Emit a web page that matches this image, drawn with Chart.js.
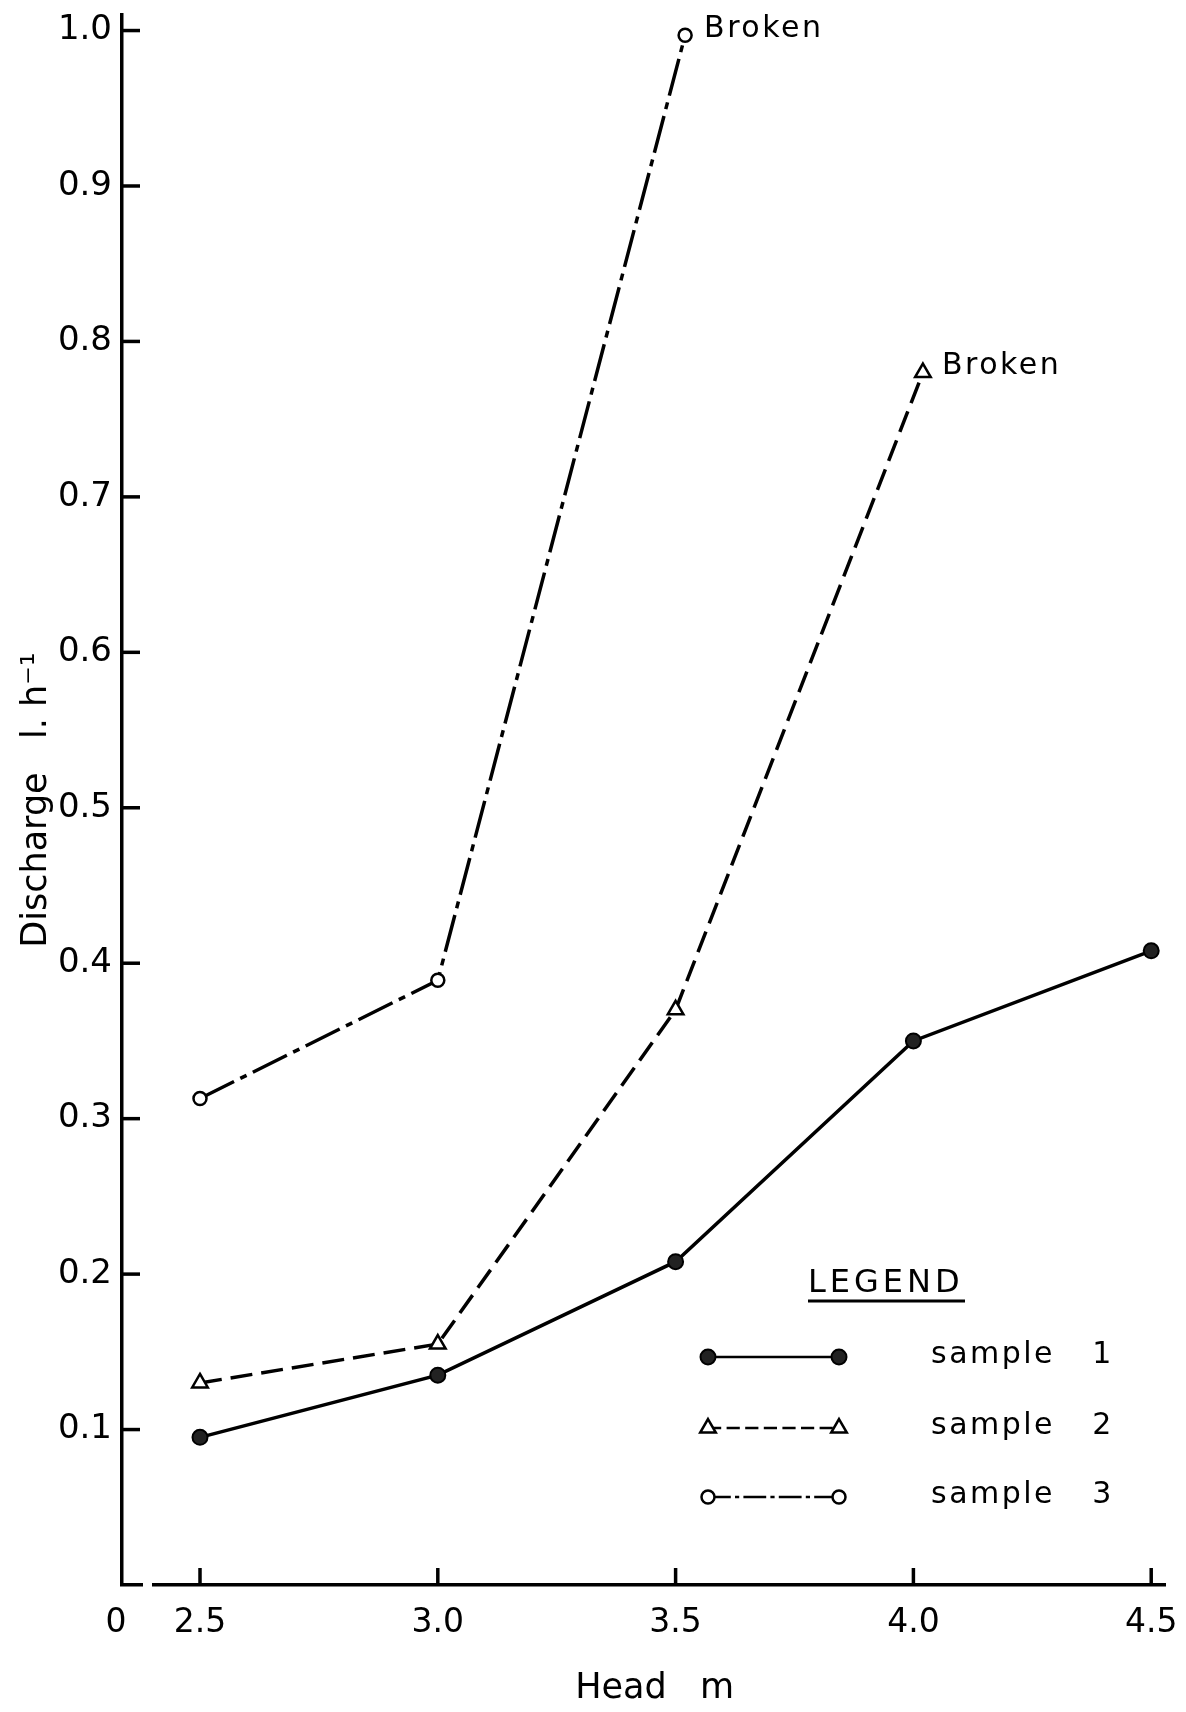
<!DOCTYPE html>
<html>
<head>
<meta charset="utf-8">
<script src="https://cdn.jsdelivr.net/npm/chart.js@4/dist/chart.umd.min.js"></script>
<style>
html,body{margin:0;padding:0;background:#ffffff;}
#wrap{width:1186px;height:1712px;position:relative;}
</style>
</head>
<body>
<div id="wrap"><canvas id="c" width="1186" height="1712"></canvas></div>
<script>
// ---- data ----
const sample1X = [2.5, 3.0, 3.5, 4.0, 4.5];
const sample1Y = [0.095, 0.135, 0.208, 0.350, 0.408];
const sample2X = [2.5, 3.0, 3.5, 4.02];
const sample2Y = [0.130, 0.155, 0.370, 0.780];
const sample3X = [2.5, 3.0, 3.52];
const sample3Y = [0.313, 0.389, 0.997];
const seriesNames = ['sample', 'sample', 'sample'];
const seriesNumbers = ['1', '2', '3'];
const xTickValues = [2.5, 3.0, 3.5, 4.0, 4.5];
const xTickLabels = ['2.5', '3.0', '3.5', '4.0', '4.5'];
const originLabel = '0';
const yTickValues = [0.1, 0.2, 0.3, 0.4, 0.5, 0.6, 0.7, 0.8, 0.9, 1.0];
const yTickLabels = ['0.1', '0.2', '0.3', '0.4', '0.5', '0.6', '0.7', '0.8', '0.9', '1.0'];
const xTitle = '  Head   m';
const yTitle = 'Discharge   l. h\u207B\u00B9';
const brokenText = 'Broken';
const legendTitle = 'LEGEND';

const X_MIN = 2.336, X_MAX = 4.529, Y_MIN = 0, Y_MAX = 1.01;
const ORIGIN_TICK = X_MIN - 0.0126;
const FONT = '"DejaVu Sans", "Liberation Sans", sans-serif';

function toPts(xs, ys) { return xs.map((x, i) => ({ x: x, y: ys[i] })); }

const datasets = [
  { label: seriesNames[0] + ' ' + seriesNumbers[0], data: toPts(sample1X, sample1Y),
    borderColor: '#000', borderWidth: 3.5, borderDash: [],
    pointStyle: 'circle', pointRadius: 7.5, pointBackgroundColor: '#222',
    pointBorderColor: '#000', pointBorderWidth: 2 },
  { label: seriesNames[1] + ' ' + seriesNumbers[1], data: toPts(sample2X, sample2Y),
    borderColor: '#000', borderWidth: 3.5, borderDash: [22, 9],
    pointStyle: 'triangle', pointRadius: 9, pointBackgroundColor: '#fff',
    pointBorderColor: '#000', pointBorderWidth: 2.5 },
  { label: seriesNames[2] + ' ' + seriesNumbers[2], data: toPts(sample3X, sample3Y),
    borderColor: '#000', borderWidth: 3.5, borderDash: [38, 7, 7, 7],
    pointStyle: 'circle', pointRadius: 6.5, pointBackgroundColor: '#fff',
    pointBorderColor: '#000', pointBorderWidth: 2.5 }
];

function drawMarker(ctx, style, x, y, r, fill, stroke, bw) {
  ctx.save();
  ctx.beginPath();
  if (style === 'triangle') {
    let rad = 0;
    ctx.moveTo(x + Math.sin(rad) * r, y - Math.cos(rad) * r);
    rad += 2 * Math.PI / 3;
    ctx.lineTo(x + Math.sin(rad) * r, y - Math.cos(rad) * r);
    rad += 2 * Math.PI / 3;
    ctx.lineTo(x + Math.sin(rad) * r, y - Math.cos(rad) * r);
    ctx.closePath();
  } else {
    ctx.arc(x, y, r, 0, Math.PI * 2);
  }
  ctx.fillStyle = fill; ctx.fill();
  ctx.lineWidth = bw; ctx.strokeStyle = stroke; ctx.setLineDash([]); ctx.stroke();
  ctx.restore();
}

const decorPlugin = {
  id: 'decor',
  afterDraw(chart) {
    const ctx = chart.ctx;
    const ca = chart.chartArea;
    const xs = chart.scales.x, ys = chart.scales.y;
    ctx.save();
    // inward tick marks
    ctx.strokeStyle = '#000'; ctx.lineWidth = 3.5; ctx.setLineDash([]);
    yTickValues.forEach(v => {
      const py = ys.getPixelForValue(v);
      ctx.beginPath(); ctx.moveTo(ca.left, py); ctx.lineTo(ca.left + 18, py); ctx.stroke();
    });
    xTickValues.forEach(v => {
      const px = xs.getPixelForValue(v);
      ctx.beginPath(); ctx.moveTo(px, ca.bottom); ctx.lineTo(px, ca.bottom - 17); ctx.stroke();
    });
    // axis break near the origin
    ctx.fillStyle = '#fff';
    ctx.fillRect(ca.left + 21, ca.bottom - 4, 9, 8);

    // "Broken" annotations at the last point of samples 3 and 2
    ctx.fillStyle = '#000';
    ctx.font = '30px ' + FONT;
    ctx.letterSpacing = '2.5px';
    ctx.textBaseline = 'middle';
    ctx.textAlign = 'left';
    [2, 1].forEach(i => {
      const meta = chart.getDatasetMeta(i);
      const el = meta.data[meta.data.length - 1];
      ctx.fillText(brokenText, el.x + 19, el.y - 6);
    });

    // legend
    const lx0 = 708, lx1 = 839, rows = [1357, 1428, 1497];
    ctx.font = '32px ' + FONT;
    ctx.letterSpacing = '4px';
    ctx.textBaseline = 'alphabetic';
    ctx.fillText(legendTitle, 808, 1292);
    ctx.lineWidth = 3;
    ctx.beginPath(); ctx.moveTo(808, 1301); ctx.lineTo(965, 1301); ctx.stroke();
    ctx.font = '30px ' + FONT;
    ctx.letterSpacing = '2.5px';
    ctx.textBaseline = 'middle';
    datasets.forEach((ds, i) => {
      const y = rows[i];
      ctx.save();
      ctx.strokeStyle = '#000';
      ctx.lineWidth = 2.5;
      ctx.setLineDash(ds.borderDash.map(d => d * 0.6));
      ctx.beginPath(); ctx.moveTo(lx0, y); ctx.lineTo(lx1, y); ctx.stroke();
      ctx.restore();
      drawMarker(ctx, ds.pointStyle, lx0, y, ds.pointRadius, ds.pointBackgroundColor, ds.pointBorderColor, ds.pointBorderWidth);
      drawMarker(ctx, ds.pointStyle, lx1, y, ds.pointRadius, ds.pointBackgroundColor, ds.pointBorderColor, ds.pointBorderWidth);
      ctx.textAlign = 'left';
      ctx.fillText(seriesNames[i], 931, y - 2);
      ctx.textAlign = 'center';
      ctx.fillText(seriesNumbers[i], 1103, y - 2);
    });
    ctx.restore();
  }
};

new Chart(document.getElementById('c'), {
  type: 'line',
  data: { datasets: datasets },
  options: {
    responsive: false,
    animation: false,
    clip: false,
    layout: { padding: { top: 15, right: 21, left: 0, bottom: 0 } },
    plugins: { legend: { display: false }, tooltip: { enabled: false } },
    elements: { line: { tension: 0, fill: false } },
    scales: {
      x: {
        type: 'linear', min: X_MIN, max: X_MAX,
        grid: { display: false, drawTicks: false },
        border: { display: true, color: '#000', width: 3.5 },
        afterBuildTicks: s => { s.ticks = [{ value: ORIGIN_TICK }].concat(xTickValues.map(v => ({ value: v }))); },
        afterFit: s => { s.height = 127; s.paddingLeft = 0; s.paddingRight = 0; },
        ticks: {
          autoSkip: false, maxRotation: 0, padding: 19, color: '#000',
          font: { family: FONT, size: 33 },
          callback: (v) => {
            if (Math.abs(v - ORIGIN_TICK) < 1e-6) return originLabel;
            const i = xTickValues.findIndex(t => Math.abs(t - v) < 1e-6);
            return i >= 0 ? xTickLabels[i] : '';
          }
        },
        title: { display: true, text: xTitle, color: '#000',
          font: { family: FONT, size: 35 }, padding: { top: 0, bottom: 2 } }
      },
      y: {
        type: 'linear', min: Y_MIN, max: Y_MAX,
        grid: { display: false, drawTicks: false },
        border: { display: true, color: '#000', width: 3.5 },
        afterBuildTicks: s => { s.ticks = yTickValues.map(v => ({ value: v })); },
        afterFit: s => { s.width = 122; s.paddingTop = 0; s.paddingBottom = 0; },
        ticks: {
          autoSkip: false, padding: 10, color: '#000',
          font: { family: FONT, size: 34 },
          callback: (v) => {
            const i = yTickValues.findIndex(t => Math.abs(t - v) < 1e-6);
            return i >= 0 ? yTickLabels[i] : '';
          }
        },
        title: { display: true, text: yTitle, color: '#000',
          font: { family: FONT, size: 35 }, padding: { top: 16, bottom: 0 } }
      }
    }
  },
  plugins: [decorPlugin]
});
</script>
</body>
</html>
